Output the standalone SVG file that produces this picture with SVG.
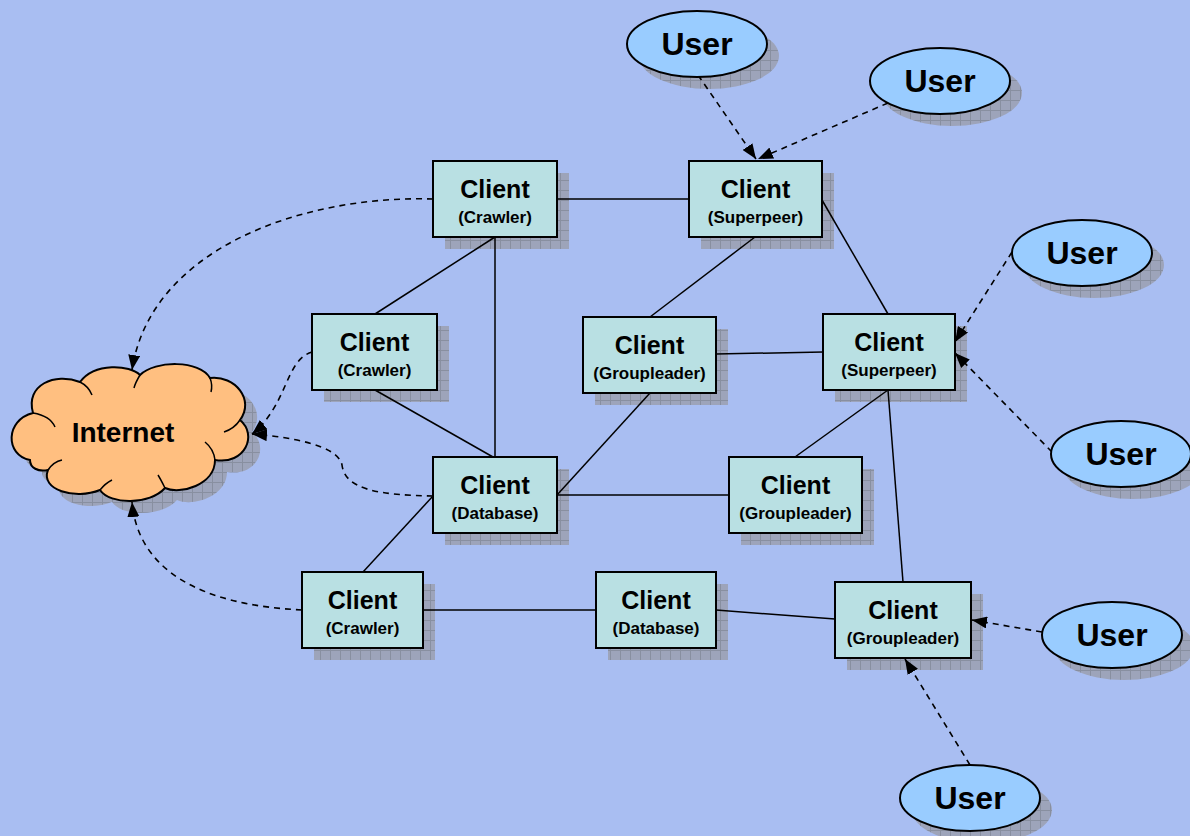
<svg xmlns="http://www.w3.org/2000/svg" width="1190" height="836" viewBox="0 0 1190 836">
<defs>
<pattern id="grid" width="10" height="10" patternUnits="userSpaceOnUse">
<rect width="10" height="10" fill="#9DA4BA"/>
<path d="M0,0.5 H10 M0.5,0 V10" stroke="#888FA0" stroke-width="1"/>
</pattern>
<marker id="arr" markerWidth="15" markerHeight="12" refX="15" refY="6" orient="auto" markerUnits="userSpaceOnUse">
<path d="M0,0 L15,6 L0,12 z" fill="#000"/>
</marker>
<path id="cloud" d="M30,460 C5,455 5,420 33,413 C25,385 55,372 80,382 C95,362 130,365 140,375 C155,360 200,360 210,378 C235,375 255,400 240,420 C258,435 245,465 215,460 C215,485 180,495 165,488 C150,505 110,505 100,490 C75,500 40,490 48,470 C38,472 30,468 30,460 Z"/>
</defs>
<style>
.box{fill:#B9E0E3;stroke:#000;stroke-width:2}
.ell{fill:#99CCFF;stroke:#000;stroke-width:2}
.sh{fill:url(#grid)}
.ln{stroke:#000;stroke-width:1.5;fill:none}
.dl{stroke:#000;stroke-width:1.6;fill:none;stroke-dasharray:6 5;marker-end:url(#arr)}
.t1{font-family:"Liberation Sans",Arial,sans-serif;font-weight:bold;font-size:25px;text-anchor:middle;fill:#000}
.t2{font-family:"Liberation Sans",Arial,sans-serif;font-weight:bold;font-size:17px;text-anchor:middle;fill:#000}
.tu{font-family:"Liberation Sans",Arial,sans-serif;font-weight:bold;font-size:32px;text-anchor:middle;fill:#000}
.ti{font-family:"Liberation Sans",Arial,sans-serif;font-weight:bold;font-size:28px;text-anchor:middle;fill:#000}
</style>
<rect width="1190" height="836" fill="#A9BEF2"/>

<g id="shadows">
<rect class="sh" x="445" y="173" width="124" height="76"/>
<rect class="sh" x="701" y="173" width="133" height="76"/>
<rect class="sh" x="324" y="326" width="125" height="76"/>
<rect class="sh" x="595" y="329" width="133" height="76"/>
<rect class="sh" x="835" y="326" width="132" height="76"/>
<rect class="sh" x="445" y="469" width="124" height="76"/>
<rect class="sh" x="741" y="469" width="133" height="76"/>
<rect class="sh" x="314" y="584" width="121" height="76"/>
<rect class="sh" x="608" y="584" width="120" height="76"/>
<rect class="sh" x="847" y="594" width="136" height="76"/>
<ellipse class="sh" cx="709" cy="56" rx="70" ry="33"/>
<ellipse class="sh" cx="952" cy="93" rx="70" ry="33"/>
<ellipse class="sh" cx="1094" cy="265" rx="70" ry="33"/>
<ellipse class="sh" cx="1133" cy="466" rx="70" ry="33"/>
<ellipse class="sh" cx="1124" cy="647" rx="70" ry="33"/>
<ellipse class="sh" cx="982" cy="810" rx="70" ry="33"/>
<use href="#cloud" class="sh" transform="translate(12,12)"/>
</g>

<g id="connectors">
<line class="ln" x1="557" y1="199" x2="689" y2="199"/>
<line class="ln" x1="495" y1="237" x2="375" y2="314"/>
<line class="ln" x1="495" y1="237" x2="495" y2="457"/>
<line class="ln" x1="375" y1="390" x2="493" y2="457"/>
<line class="ln" x1="755" y1="237" x2="650" y2="317"/>
<line class="ln" x1="822" y1="200" x2="888" y2="314"/>
<line class="ln" x1="716" y1="354" x2="823" y2="352"/>
<line class="ln" x1="650" y1="393" x2="557" y2="495"/>
<line class="ln" x1="557" y1="495" x2="729" y2="495"/>
<line class="ln" x1="888" y1="390" x2="795" y2="457"/>
<line class="ln" x1="888" y1="390" x2="903" y2="582"/>
<line class="ln" x1="433" y1="496" x2="363" y2="572"/>
<line class="ln" x1="423" y1="610" x2="596" y2="610"/>
<line class="ln" x1="716" y1="610" x2="835" y2="619"/>
<path class="dl" d="M433,199 C300,195 150,250 132,370"/>
<path class="dl" d="M312,352 C285,360 288,405 252,434"/>
<path class="dl" d="M433,496 C380,495 345,490 342,465 C338,445 290,437 252,434"/>
<path class="dl" d="M302,610 C200,605 138,570 132,502"/>
<line class="dl" x1="698" y1="75" x2="756" y2="159"/>
<line class="dl" x1="888" y1="103" x2="758" y2="159"/>
<line class="dl" x1="1012" y1="252" x2="955" y2="342"/>
<line class="dl" x1="1052" y1="452" x2="955" y2="353"/>
<line class="dl" x1="1042" y1="632" x2="972" y2="620"/>
<line class="dl" x1="970" y1="765" x2="905" y2="659"/>
</g>

<g id="internet">
<use href="#cloud" fill="#FFBF80" stroke="#000" stroke-width="2"/>
<path d="M33,413 C45,415 52,420 55,427 M80,382 C86,385 90,390 92,395 M140,375 C137,380 135,384 134,388 M210,378 C212,383 212,388 211,392 M240,420 C236,426 230,430 224,432 M215,460 C214,452 210,446 205,442 M165,488 C162,482 160,478 158,475 M100,490 C104,485 108,482 112,480 M48,470 C52,464 57,461 62,460" fill="none" stroke="#000" stroke-width="1.5"/>
<text class="ti" x="123" y="442">Internet</text>
</g>

<g id="crawler1"><rect class="box" x="433" y="161" width="124" height="76"/><text class="t1" x="495" y="198">Client</text><text class="t2" x="495" y="223">(Crawler)</text></g>
<g id="superpeer1"><rect class="box" x="689" y="161" width="133" height="76"/><text class="t1" x="755.5" y="198">Client</text><text class="t2" x="755.5" y="223">(Superpeer)</text></g>
<g id="crawler2"><rect class="box" x="312" y="314" width="125" height="76"/><text class="t1" x="374.5" y="351">Client</text><text class="t2" x="374.5" y="376">(Crawler)</text></g>
<g id="groupleader1"><rect class="box" x="583" y="317" width="133" height="76"/><text class="t1" x="649.5" y="354">Client</text><text class="t2" x="649.5" y="379">(Groupleader)</text></g>
<g id="superpeer2"><rect class="box" x="823" y="314" width="132" height="76"/><text class="t1" x="889" y="351">Client</text><text class="t2" x="889" y="376">(Superpeer)</text></g>
<g id="database1"><rect class="box" x="433" y="457" width="124" height="76"/><text class="t1" x="495" y="494">Client</text><text class="t2" x="495" y="519">(Database)</text></g>
<g id="groupleader2"><rect class="box" x="729" y="457" width="133" height="76"/><text class="t1" x="795.5" y="494">Client</text><text class="t2" x="795.5" y="519">(Groupleader)</text></g>
<g id="crawler3"><rect class="box" x="302" y="572" width="121" height="76"/><text class="t1" x="362.5" y="609">Client</text><text class="t2" x="362.5" y="634">(Crawler)</text></g>
<g id="database2"><rect class="box" x="596" y="572" width="120" height="76"/><text class="t1" x="656" y="609">Client</text><text class="t2" x="656" y="634">(Database)</text></g>
<g id="groupleader3"><rect class="box" x="835" y="582" width="136" height="76"/><text class="t1" x="903" y="619">Client</text><text class="t2" x="903" y="644">(Groupleader)</text></g>

<g id="user1"><ellipse class="ell" cx="697" cy="44" rx="70" ry="33"/><text class="tu" x="697" y="55">User</text></g>
<g id="user2"><ellipse class="ell" cx="940" cy="81" rx="70" ry="33"/><text class="tu" x="940" y="92">User</text></g>
<g id="user3"><ellipse class="ell" cx="1082" cy="253" rx="70" ry="33"/><text class="tu" x="1082" y="264">User</text></g>
<g id="user4"><ellipse class="ell" cx="1121" cy="454" rx="70" ry="33"/><text class="tu" x="1121" y="465">User</text></g>
<g id="user5"><ellipse class="ell" cx="1112" cy="635" rx="70" ry="33"/><text class="tu" x="1112" y="646">User</text></g>
<g id="user6"><ellipse class="ell" cx="970" cy="798" rx="70" ry="33"/><text class="tu" x="970" y="809">User</text></g>
</svg>
